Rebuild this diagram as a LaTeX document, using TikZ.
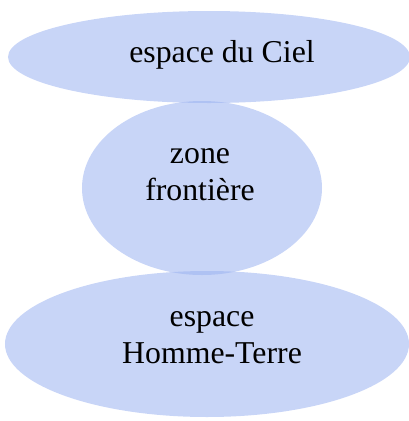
\documentclass[tikz,border=0pt]{standalone}
\usepackage{fontspec}
\setmainfont{Liberation Serif}
\usetikzlibrary{shapes.geometric}
\definecolor{zonefill}{RGB}{155,178,240}
\begin{document}
\begin{tikzpicture}[x=1bp,y=-1bp,
  zone/.style={ellipse, fill=zonefill, fill opacity=0.55, draw=none, inner sep=0pt},
  lbl/.style={font=\fontsize{31.8bp}{37bp}\selectfont, align=center, inner sep=0pt, text=black}]
\useasboundingbox (0,0) rectangle (409,421);
\node[zone, minimum width=402bp, minimum height=92bp] (ciel) at (209,57) {};
\node[zone, minimum width=240bp, minimum height=174bp] (front) at (202,188) {};
\node[zone, minimum width=404bp, minimum height=146bp] (terre) at (207,344) {};
\node[lbl, anchor=base] (tciel) at (222,62) {espace du Ciel};
\node[lbl, anchor=base] (tfront) at (200,200) {zone\\frontière};
\node[lbl, anchor=base] (tterre) at (212,363) {espace\\Homme-Terre};
\end{tikzpicture}
\end{document}
